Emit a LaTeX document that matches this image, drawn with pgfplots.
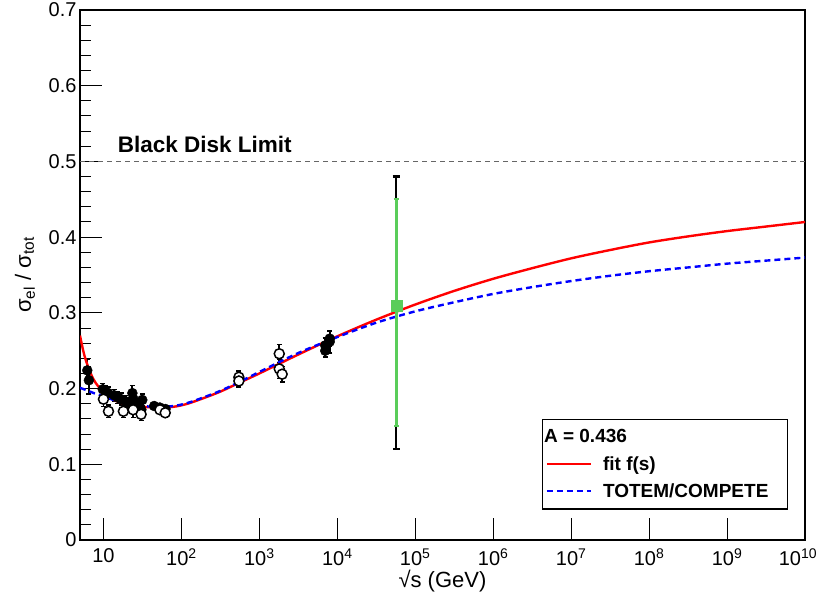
\documentclass[border=0pt]{standalone}
\usepackage{pgfplots}
\pgfplotsset{compat=1.18}
\usepackage{pgfplotstable}
\usepackage{fontspec}
\setmainfont{Liberation Sans}
\definecolor{rootgreen}{RGB}{90,205,90}

\pgfplotstableread{
x y e
6.2 0.224 0.015
6.5 0.211 0.018
9.8 0.199 0.008
10.6 0.196 0.008
11.5 0.194 0.008
13.8 0.191 0.008
15.3 0.188 0.008
16.8 0.186 0.008
19.4 0.183 0.008
21.7 0.180 0.008
23.5 0.194 0.010
24.3 0.186 0.010
27.4 0.177 0.008
30.6 0.172 0.006
31.5 0.185 0.008
44.7 0.177 0.004
52.8 0.175 0.004
62.5 0.173 0.004
7000 0.257 0.010
7000 0.250 0.008
8000 0.266 0.010
8000 0.262 0.015
}\pp

\pgfplotstableread{
x y e
10.0 0.186 0.010
11.6 0.170 0.008
18.0 0.170 0.008
24.0 0.172 0.010
30.4 0.166 0.008
53 0.172 0.005
62 0.168 0.006
546 0.215 0.008
546 0.210 0.008
1800 0.246 0.012
1800 0.226 0.013
1960 0.219 0.010
}\ppbar

\pgfplotstableread{
x y
5 0.270
5.5 0.250
6 0.236
7 0.218
8 0.207
10 0.195
12 0.188
15 0.183
20 0.179
30 0.176
50 0.175
80 0.176
120 0.180
200 0.188
316 0.196
562 0.208
1000 0.220
3162 0.245
1e4 0.269
3.162e4 0.291
1e5 0.311
3.162e5 0.329
1e6 0.345
3.162e6 0.359
1e7 0.372
3.162e7 0.383
1e8 0.393
3.162e8 0.401
1e9 0.408
3.162e9 0.414
1e10 0.420
}\fit

\pgfplotstableread{
x y
5 0.201
6 0.198
8 0.193
10 0.190
15 0.183
20 0.180
30 0.177
50 0.176
80 0.177
120 0.181
200 0.189
316 0.197
562 0.209
1000 0.222
3162 0.247
1e4 0.268
3.162e4 0.287
1e5 0.302
3.162e5 0.314
1e6 0.325
3.162e6 0.334
1e7 0.342
3.162e7 0.349
1e8 0.355
3.162e8 0.360
1e9 0.365
3.162e9 0.369
1e10 0.373
}\totem

\begin{document}
\begin{tikzpicture}[x=1pt,y=1pt]
\path[use as bounding box] (0,0) rectangle (821,600);
\begin{axis}[
  at={(80pt,60pt)}, anchor=south west,
  width=725pt, height=530pt, scale only axis,
  xmode=log, log basis x=10,
  xmin=5, xmax=1e10, ymin=0, ymax=0.7,
  xtick={10,100,1000,1e4,1e5,1e6,1e7,1e8,1e9,1e10},
  xticklabels={10,10\textsuperscript{2},10\textsuperscript{3},10\textsuperscript{4},10\textsuperscript{5},10\textsuperscript{6},10\textsuperscript{7},10\textsuperscript{8},10\textsuperscript{9},\hspace*{-14pt}10\textsuperscript{10}},
  ytick={0,0.1,0.2,0.3,0.4,0.5,0.6,0.7},
  yticklabels={0,0.1,0.2,0.3,0.4,0.5,0.6,0.7},
  minor y tick num=4,
  tick align=inside, xtick pos=left, ytick pos=left,
  major tick length=22pt, minor tick length=11pt,
  axis line style={line width=1.2pt},
  every tick/.style={black, line width=1pt},
  /pgf/number format/assume math mode=true,
  ticklabel style={font=\fontsize{20}{24}\selectfont},
  xticklabel style={yshift=-5pt},
  xlabel={\char"221A s (GeV)},
  ylabel={σ\textsubscript{el} / σ\textsubscript{tot}},
  label style={font=\fontsize{22}{26}\selectfont},
  xlabel style={at={(axis description cs:0.5,-0.077)}, anchor=center},
  ylabel style={at={(axis description cs:-0.076,0.5)}, anchor=center},
  legend image code/.code={\draw[#1] (0pt,0pt) -- (44pt,0pt);},
  legend cell align=left,
  legend style={at={(0.9766,0.2283)}, anchor=north east, draw=black, line width=1.2pt,
    font=\bfseries\fontsize{19}{22}\selectfont, inner xsep=3pt, inner ysep=8pt, row sep=8pt},
  clip=true,
]
\addplot[forget plot, black!60, line width=1.2pt, dash pattern=on 5pt off 4pt] coordinates {(5,0.5) (1e10,0.5)};

\addplot[forget plot, only marks, mark=*, mark size=5pt, black,
  error bars/.cd, y dir=both, y explicit, error bar style={line width=1.8pt, black},
  error mark options={rotate=90, line width=1.5pt, mark size=2.5pt, black}]
  table[x=x, y=y, y error=e] {\pp};
\addplot[forget plot, only marks, mark=*, mark size=5pt, black, mark options={fill=white, line width=1.5pt},
  error bars/.cd, y dir=both, y explicit, error bar style={line width=1.8pt, black},
  error mark options={rotate=90, line width=1.5pt, mark size=2.5pt, black}]
  table[x=x, y=y, y error=e] {\ppbar};

\addplot[forget plot, red, line width=2.4pt, smooth] table[x=x, y=y] {\fit};
\addplot[forget plot, blue, line width=2.4pt, dash pattern=on 6pt off 4pt, smooth] table[x=x, y=y] {\totem};

\addplot[forget plot, draw=none, mark=none,
  error bars/.cd, y dir=both, y explicit, error bar style={line width=2.2pt, black},
  error mark options={rotate=90, line width=2.2pt, mark size=3.5pt, black}]
  coordinates {(57000,0.31) += (0,0.17) -= (0,0.19)};
\addplot[forget plot, only marks, mark=square*, mark size=5.5pt, rootgreen,
  error bars/.cd, y dir=both, y explicit, error bar style={line width=2.6pt, rootgreen},
  error mark options={rotate=90, line width=2pt, mark size=2.5pt, rootgreen}]
  coordinates {(57000,0.31) += (0,0.14) -= (0,0.16)};

\node[anchor=west, font=\bfseries\fontsize{22.5}{26}\selectfont] at (axis cs:13.8,0.522) {Black Disk Limit};

\addlegendimage{empty legend}
\addlegendentry{\hspace*{-50pt}A = 0.436}
\addlegendimage{red, line width=2.4pt}
\addlegendentry{\hspace*{9pt}fit f(s)}
\addlegendimage{blue, line width=2.4pt, dash pattern=on 6pt off 4pt}
\addlegendentry{\hspace*{9pt}TOTEM/COMPETE\hspace*{14pt}}
\end{axis}
\end{tikzpicture}
\end{document}
